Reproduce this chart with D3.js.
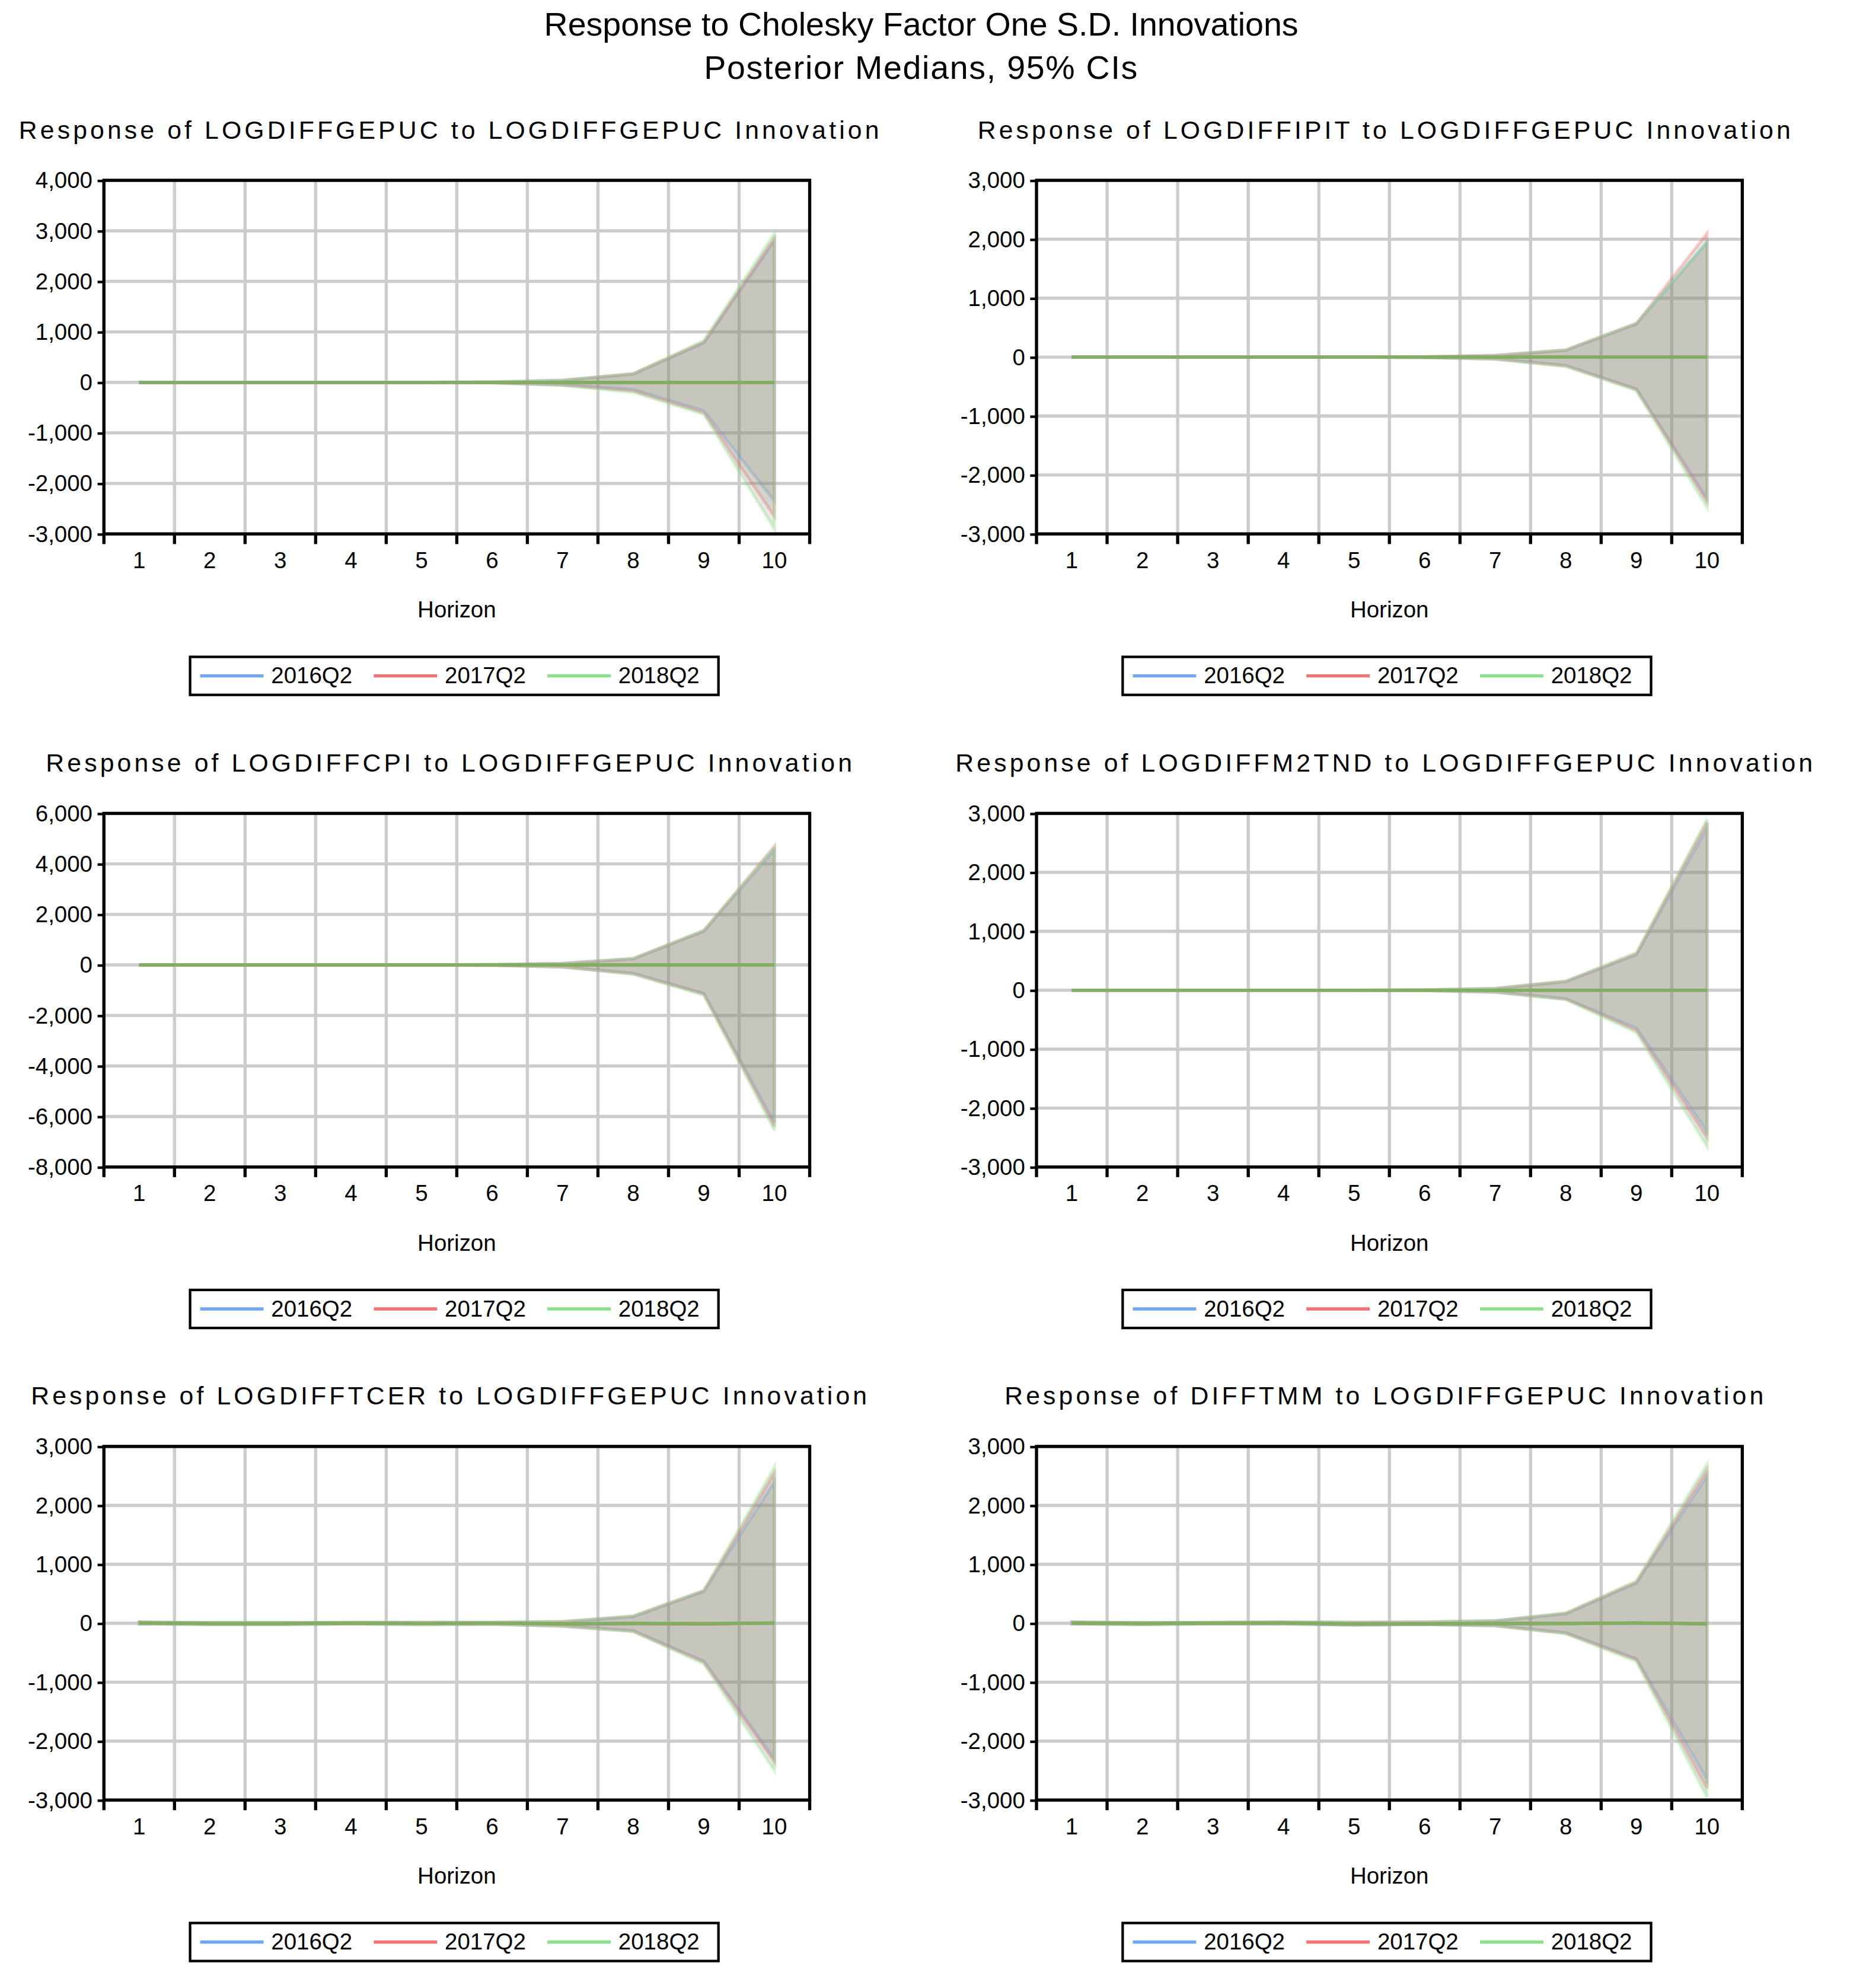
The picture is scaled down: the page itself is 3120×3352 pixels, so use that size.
<!DOCTYPE html>
<html><head><meta charset="utf-8">
<script src="https://cdn.jsdelivr.net/npm/d3@7"></script>
<style>body{margin:0;background:#fff}text{font-family:"Liberation Sans",Arial,sans-serif;fill:#000}</style>
</head><body>
<svg id="chart" width="3120" height="3352" viewBox="0 0 1460 1568"></svg>
<script>
let horizons = [1,2,3,4,5,6,7,8,9,10];
let seriesNames = ["2016Q2","2017Q2","2018Q2"];
let seriesColors = ["#6fa8f0","#f27474","#8be08b"];

let titles = [
  "Response of LOGDIFFGEPUC to LOGDIFFGEPUC Innovation",
  "Response of LOGDIFFIPIT to LOGDIFFGEPUC Innovation",
  "Response of LOGDIFFCPI to LOGDIFFGEPUC Innovation",
  "Response of LOGDIFFM2TND to LOGDIFFGEPUC Innovation",
  "Response of LOGDIFFTCER to LOGDIFFGEPUC Innovation",
  "Response of DIFFTMM to LOGDIFFGEPUC Innovation"
];
let yTicks = [
  [-3000,-2000,-1000,0,1000,2000,3000,4000],
  [-3000,-2000,-1000,0,1000,2000,3000],
  [-8000,-6000,-4000,-2000,0,2000,4000,6000],
  [-3000,-2000,-1000,0,1000,2000,3000],
  [-3000,-2000,-1000,0,1000,2000,3000],
  [-3000,-2000,-1000,0,1000,2000,3000]
];
// upper / lower 95% bands and medians, per panel, per series
let upper = [
  [[0,0,0,0,0,8,40,165,780,2800],[0,0,0,0,0,8,42,170,800,2850],[0,0,0,0,0,9,45,175,830,2950]],
  [[0,0,0,0,0,6,28,115,560,1950],[0,0,0,0,0,6,30,120,570,2100],[0,0,0,0,0,6,30,125,580,1950]],
  [[0,0,0,0,0,12,60,240,1330,4550],[0,0,0,0,0,12,62,250,1350,4700],[0,0,0,0,0,13,65,260,1380,4650]],
  [[0,0,0,0,0,6,28,145,600,2750],[0,0,0,0,0,6,30,150,620,2850],[0,0,0,0,0,7,32,155,640,2900]],
  [[20,10,10,15,15,15,25,110,540,2400],[20,10,10,15,15,15,28,120,550,2550],[22,12,12,16,16,16,30,125,560,2650]],
  [[20,10,15,20,15,20,40,160,680,2500],[20,10,15,20,15,20,42,170,700,2600],[22,12,16,22,16,22,45,175,720,2700]]
];
let lower = [
  [[0,0,0,0,0,-8,-50,-140,-560,-2350],[0,0,0,0,0,-8,-55,-170,-600,-2650],[0,0,0,0,0,-9,-60,-200,-630,-2900]],
  [[0,0,0,0,0,-6,-30,-140,-540,-2400],[0,0,0,0,0,-6,-32,-150,-550,-2450],[0,0,0,0,0,-7,-35,-160,-570,-2550]],
  [[0,0,0,0,0,-15,-80,-330,-1130,-6250],[0,0,0,0,0,-15,-82,-350,-1150,-6400],[0,0,0,0,0,-16,-85,-370,-1200,-6550]],
  [[0,0,0,0,0,-6,-30,-145,-640,-2400],[0,0,0,0,0,-6,-32,-150,-680,-2500],[0,0,0,0,0,-7,-35,-160,-720,-2650]],
  [[-10,-20,-20,-10,-20,-15,-45,-125,-640,-2300],[-10,-20,-20,-10,-20,-15,-48,-135,-660,-2350],[-12,-22,-22,-12,-22,-16,-50,-145,-690,-2500]],
  [[-10,-20,-10,-10,-30,-20,-40,-160,-600,-2650],[-10,-20,-10,-10,-30,-20,-42,-170,-620,-2800],[-12,-22,-12,-12,-32,-22,-45,-180,-650,-2950]]
];
let median = [
  [[0,0,0,0,0,0,0,0,0,0],[0,0,0,0,0,0,0,0,0,0],[0,0,0,0,0,0,0,0,0,0]],
  [[0,0,0,0,0,0,0,0,0,0],[0,0,0,0,0,0,0,0,0,0],[0,0,0,0,0,0,0,0,0,0]],
  [[0,0,0,0,0,0,0,0,0,0],[0,0,0,0,0,0,0,0,0,0],[0,0,0,0,0,0,0,0,0,0]],
  [[0,0,0,0,0,0,0,0,0,0],[0,0,0,0,0,0,0,0,0,0],[0,0,0,0,0,0,0,0,0,0]],
  [[5,-5,-5,3,-3,2,-10,-5,-10,5],[5,-5,-5,3,-3,2,-10,-5,-12,3],[5,-5,-5,3,-3,2,-10,-3,-10,5]],
  [[5,-5,3,5,-15,-10,-5,-5,5,-10],[5,-5,3,5,-12,-8,-5,-5,5,-10],[5,-5,3,5,-10,-8,-5,-5,5,-10]]
];

let svg = d3.select("#chart");
svg.append("text").attr("x",727).attr("y",28).attr("text-anchor","middle")
  .style("font-size","26px").text("Response to Cholesky Factor One S.D. Innovations");
svg.append("text").attr("x",727).attr("y",62).attr("text-anchor","middle")
  .style("font-size","26px").style("letter-spacing","0.8px").text("Posterior Medians, 95% CIs");

let plotW = 557, plotH = 279;
let fmt = d => d3.format(",")(d).replace("\u2212", "-");

titles.forEach(function(title, p){
  let col = p % 2, row = Math.floor(p / 2);
  let left = col === 0 ? 82 : 818;
  let top = 142 + row * 499.5;
  let g = svg.append("g").attr("transform", translate(left, top));

  svg.append("text").attr("x", left + plotW/2 - 3 + (col ? 0 : -2)).attr("y", top - 33)
    .attr("text-anchor","middle").style("font-size","20px").style("letter-spacing","2.4px").text(title);

  let x = d3.scaleBand().domain(horizons).range([0, plotW]);
  let yt = yTicks[p];
  let y = d3.scaleLinear().domain([yt[0], yt[yt.length-1]]).range([plotH, 0]);
  let cx = d => x(d) + x.bandwidth()/2;

  // grid
  g.selectAll(".hg").data(yt).enter().append("line")
    .attr("x1",0).attr("x2",plotW).attr("y1",d=>y(d)).attr("y2",d=>y(d))
    .attr("stroke","#cccccc").attr("stroke-width",2.5);
  g.selectAll(".vg").data(horizons.slice(1)).enter().append("line")
    .attr("x1",d=>x(d)).attr("x2",d=>x(d)).attr("y1",0).attr("y2",plotH)
    .attr("stroke","#cccccc").attr("stroke-width",2.5);

  // bands
  seriesNames.forEach(function(s, i){
    let pts = horizons.map((h,k)=>({h:h, lo:lower[p][i][k], hi:upper[p][i][k]}));
    g.append("path").datum(pts)
      .attr("d", d3.area().x(d=>cx(d.h)).y0(d=>y(d.lo)).y1(d=>y(d.hi)))
      .attr("fill","#8a8a78").attr("fill-opacity",0.2)
      .attr("stroke", seriesColors[i]).attr("stroke-opacity",0.35).attr("stroke-width",2.5);
  });
  seriesNames.forEach(function(s, i){
    g.append("path").datum(median[p][i])
      .attr("d", d3.line().x((d,k)=>cx(horizons[k])).y(d=>y(d)))
      .attr("fill","none").attr("stroke", i===2 ? "#7fb060" : seriesColors[i]).attr("stroke-width",2.5);
  });

  // frame
  g.append("rect").attr("width",plotW).attr("height",plotH)
    .attr("fill","none").attr("stroke","#000").attr("stroke-width",2.5);

  // y axis
  let ya = g.append("g").call(d3.axisLeft(y).tickValues(yt).tickFormat(fmt).tickSize(5).tickSizeOuter(0));
  ya.select(".domain").remove();
  ya.selectAll("line").attr("stroke","#000").attr("stroke-width",2);
  ya.selectAll("text").style("font-size","18px").style("font-family","Liberation Sans, Arial, sans-serif").attr("x",-9);

  // x axis
  let xa = g.append("g").attr("transform", translate(0, plotH));
  xa.selectAll(".xt").data(d3.range(0, 11)).enter().append("line")
    .attr("x1",d=>d*x.step()).attr("x2",d=>d*x.step()).attr("y1",0).attr("y2",8)
    .attr("stroke","#000").attr("stroke-width",2.5);
  xa.selectAll(".xl").data(horizons).enter().append("text")
    .attr("x",d=>cx(d)).attr("y",27).attr("text-anchor","middle").style("font-size","18px").text(d=>d);
  g.append("text").attr("x",plotW/2).attr("y",plotH+66).attr("text-anchor","middle")
    .style("font-size","18px").text("Horizon");

  // legend
  let lg = g.append("g").attr("transform", translate(68, plotH + 97));
  lg.append("rect").attr("width",417).attr("height",30).attr("fill","#fff")
    .attr("stroke","#000").attr("stroke-width",2);
  seriesNames.forEach(function(s, i){
    let ox = 8 + i * 137;
    lg.append("line").attr("x1",ox).attr("x2",ox+50).attr("y1",15).attr("y2",15)
      .attr("stroke",seriesColors[i]).attr("stroke-width",2.5);
    lg.append("text").attr("x",ox+56).attr("y",21).style("font-size","18px").text(s);
  });
});

function translate(x, y) {
  return 'translate(' + x + ',' + y + ')';
}
</script>
</body></html>
